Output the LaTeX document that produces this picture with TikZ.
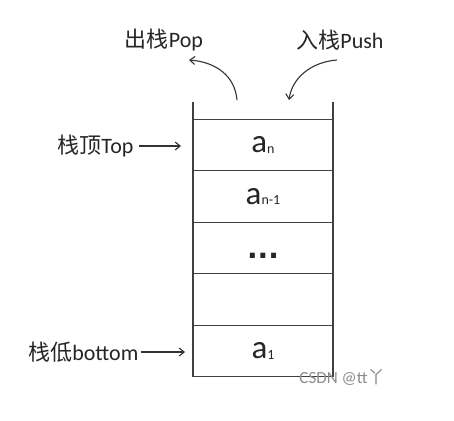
\documentclass[tikz,border=0pt]{standalone}
\usepackage{fontspec}
\setmainfont{Carlito}
\newfontfamily\cjk{Noto Sans CJK SC}
\newfontfamily\dotfont{DejaVu Sans}
\usetikzlibrary{arrows.meta}
\begin{document}
\begin{tikzpicture}[x=1pt,y=-1pt,
  line width=1.2pt,
  cell/.style={draw=black!75,minimum width=140pt,minimum height=51.5pt,inner sep=0pt,outer sep=0pt,anchor=center},
  lbl/.style={inner sep=1pt,font=\fontsize{22}{24}\selectfont,text=black!85},
  elem/.style={font=\fontsize{33}{34}\selectfont,text=black!85},
  arr/.style={draw=black!80,line width=1.1pt,-{Straight Barb[length=5pt,width=8pt]}}
]
\useasboundingbox[fill=white] (0,0) rectangle (454,420);
% stack cells
\node[cell] (c5) at (263,145) {};
\node[cell] (c4) at (263,196.5) {};
\node[cell] (c3) at (263,248) {};
\node[cell] (c2) at (263,299.5) {};
\node[cell] (c1) at (263,351) {};
\node[elem] at (c5) {a\raisebox{-0.5pt}{\fontsize{14}{15}\selectfont n}};
\node[elem] at (c4) {a\raisebox{-0.5pt}{\fontsize{14}{15}\selectfont n-1}};
\node[font=\dotfont\fontsize{28}{28}\selectfont\bfseries,text=black!85] at ([yshift=-8pt]c3) {...};
\node[elem] at (c1) {a\raisebox{-0.5pt}{\fontsize{14}{15}\selectfont 1}};
% open top walls
\coordinate (wl) at (193,102);
\coordinate (wr) at (333,102);
\draw[draw=black!75] (c5.north west) -- (wl);
\draw[draw=black!75] (c5.north east) -- (wr);
% labels
\node[lbl] (pop) at (164,40) {{\cjk 出栈}Pop};
\node[lbl] (push) at (340,40) {{\cjk 入栈}Push};
\node[lbl,anchor=east] (top) at (135,146) {{\cjk 栈顶}Top};
\node[lbl,anchor=east] (bot) at (140,352) {{\cjk 栈低}bottom};
% pointer arrows
\coordinate (ps) at (237,100);
\coordinate (pe) at (189,60);
\coordinate (qs) at (337,60);
\coordinate (qe) at (289,100);
\draw[arr] (ps) .. controls (235,76) and (216,62) .. (pe);
\draw[arr] (qs) .. controls (311,62) and (292,78) .. (qe);
\draw[arr] (top.east) ++(4,0) coordinate (ts) -- ([xshift=-12pt]c5.west |- ts);
\draw[arr] (bot.east) ++(1,0) coordinate (bs) -- ([xshift=-8pt]c1.west |- bs);
% watermark
\node[text=black!45,font=\fontsize{17}{18}\selectfont] (wm) at (342,377) {CSDN @tt{\cjk 丫}};
\end{tikzpicture}
\end{document}
